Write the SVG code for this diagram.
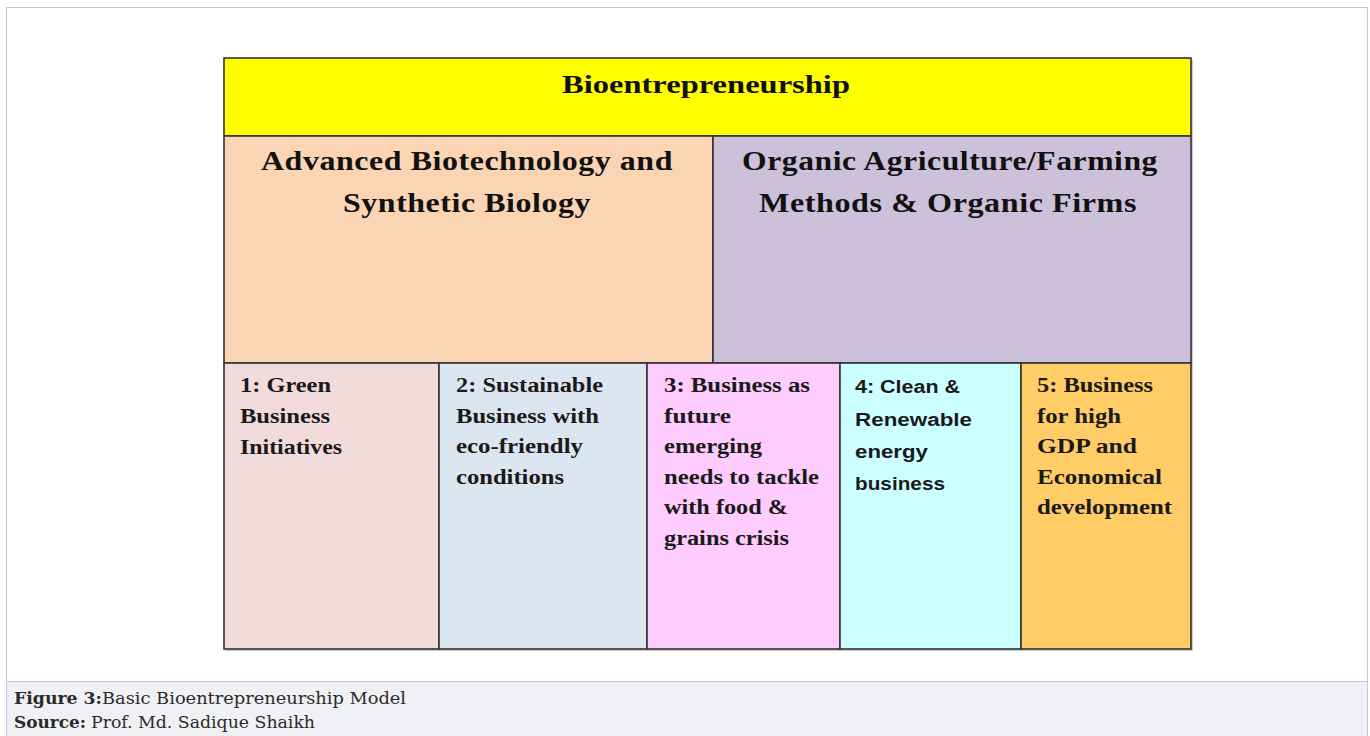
<svg xmlns="http://www.w3.org/2000/svg" width="1370" height="736" viewBox="0 0 1370 736">
<style>
.cell{stroke:#333;stroke-width:1.6}
.hd{font-family:"Liberation Serif","Times New Roman",serif;font-weight:bold;font-size:28px;fill:#111;letter-spacing:0.5px}
.ttl{font-family:"Liberation Serif","Times New Roman",serif;font-weight:bold;font-size:26px;fill:#111}
.ct{font-family:"Liberation Serif","Times New Roman",serif;font-weight:bold;font-size:20px;fill:#1a1a1a}
.cs{font-family:"Liberation Sans",Arial,sans-serif;font-weight:bold;font-size:18px;fill:#1a1a1a}
.cap{font-family:"DejaVu Serif","Liberation Serif",serif;font-size:16px;fill:#2a2a2a}
</style>
<rect x="0" y="0" width="1370" height="736" fill="#ffffff"/>
<rect x="6.5" y="7.5" width="1361" height="740" fill="#ffffff" stroke="#c4c4df" stroke-width="1"/>
<rect x="7" y="682" width="1360" height="60" fill="#f0f1f4"/>
<line x1="7" y1="681.5" x2="1367" y2="681.5" stroke="#c4c4df" stroke-width="1.2"/>

<rect x="226" y="60" width="967" height="591" fill="#9a9a9a" opacity="0.5"/>

<g id="header">
<rect class="cell" x="224" y="58" width="967" height="78" fill="#ffff00"/>
<text class="ttl" x="562" y="93" textLength="288" lengthAdjust="spacingAndGlyphs">Bioentrepreneurship</text>
</g>
<g id="biotech">
<rect class="cell" x="224" y="136" width="489" height="227" fill="#fbd4b4"/>
<text class="hd" x="261" y="170" textLength="412" lengthAdjust="spacingAndGlyphs">Advanced Biotechnology and</text>
<text class="hd" x="343" y="212" textLength="248" lengthAdjust="spacingAndGlyphs">Synthetic Biology</text>
</g>
<g id="organic">
<rect class="cell" x="713" y="136" width="478" height="227" fill="#ccc0da"/>
<text class="hd" x="742" y="170" textLength="416" lengthAdjust="spacingAndGlyphs">Organic Agriculture/Farming</text>
<text class="hd" x="759" y="212" textLength="378" lengthAdjust="spacingAndGlyphs">Methods &amp; Organic Firms</text>
</g>
<g id="cell1">
<rect class="cell" x="224" y="363" width="215" height="286" fill="#f2dcdb"/>
<text class="ct" x="240" y="392" textLength="91" lengthAdjust="spacingAndGlyphs">1: Green</text>
<text class="ct" x="240" y="422.5" textLength="90" lengthAdjust="spacingAndGlyphs">Business</text>
<text class="ct" x="240" y="453.5" textLength="102" lengthAdjust="spacingAndGlyphs">Initiatives</text>
</g>
<g id="cell2">
<rect class="cell" x="439" y="363" width="208" height="286" fill="#dce6f1"/>
<text class="ct" x="456" y="392" textLength="147" lengthAdjust="spacingAndGlyphs">2: Sustainable</text>
<text class="ct" x="456" y="422.5" textLength="143" lengthAdjust="spacingAndGlyphs">Business with</text>
<text class="ct" x="456" y="453" textLength="127" lengthAdjust="spacingAndGlyphs">eco-friendly</text>
<text class="ct" x="456" y="484" textLength="108" lengthAdjust="spacingAndGlyphs">conditions</text>
</g>
<g id="cell3">
<rect class="cell" x="647" y="363" width="193" height="286" fill="#ffccff"/>
<text class="ct" x="664" y="392" textLength="146" lengthAdjust="spacingAndGlyphs">3: Business as</text>
<text class="ct" x="664" y="422.5" textLength="67" lengthAdjust="spacingAndGlyphs">future</text>
<text class="ct" x="664" y="453" textLength="98" lengthAdjust="spacingAndGlyphs">emerging</text>
<text class="ct" x="664" y="483.5" textLength="155" lengthAdjust="spacingAndGlyphs">needs to tackle</text>
<text class="ct" x="664" y="514" textLength="124" lengthAdjust="spacingAndGlyphs">with food &amp;</text>
<text class="ct" x="664" y="545" textLength="125" lengthAdjust="spacingAndGlyphs">grains crisis</text>
</g>
<g id="cell4">
<rect class="cell" x="840" y="363" width="181" height="286" fill="#ccffff"/>
<text class="cs" x="855" y="393" textLength="105" lengthAdjust="spacingAndGlyphs">4: Clean &amp;</text>
<text class="cs" x="855" y="426" textLength="117" lengthAdjust="spacingAndGlyphs">Renewable</text>
<text class="cs" x="855" y="458" textLength="73" lengthAdjust="spacingAndGlyphs">energy</text>
<text class="cs" x="855" y="490" textLength="90" lengthAdjust="spacingAndGlyphs">business</text>
</g>
<g id="cell5">
<rect class="cell" x="1021" y="363" width="170" height="286" fill="#ffcc66"/>
<text class="ct" x="1037" y="392" textLength="116" lengthAdjust="spacingAndGlyphs">5: Business</text>
<text class="ct" x="1037" y="422.5" textLength="84" lengthAdjust="spacingAndGlyphs">for high</text>
<text class="ct" x="1037" y="453" textLength="100" lengthAdjust="spacingAndGlyphs">GDP and</text>
<text class="ct" x="1037" y="483.5" textLength="125" lengthAdjust="spacingAndGlyphs">Economical</text>
<text class="ct" x="1037" y="514" textLength="135" lengthAdjust="spacingAndGlyphs">development</text>
</g>

<g id="caption">
<text class="cap" x="14" y="704"><tspan font-weight="bold" textLength="88" lengthAdjust="spacingAndGlyphs">Figure 3:</tspan><tspan x="102" textLength="304" lengthAdjust="spacingAndGlyphs">Basic Bioentrepreneurship Model</tspan></text>
<text class="cap" x="14" y="728"><tspan font-weight="bold" textLength="72" lengthAdjust="spacingAndGlyphs">Source:</tspan><tspan x="91" textLength="224" lengthAdjust="spacingAndGlyphs">Prof. Md. Sadique Shaikh</tspan></text>
</g>
</svg>
